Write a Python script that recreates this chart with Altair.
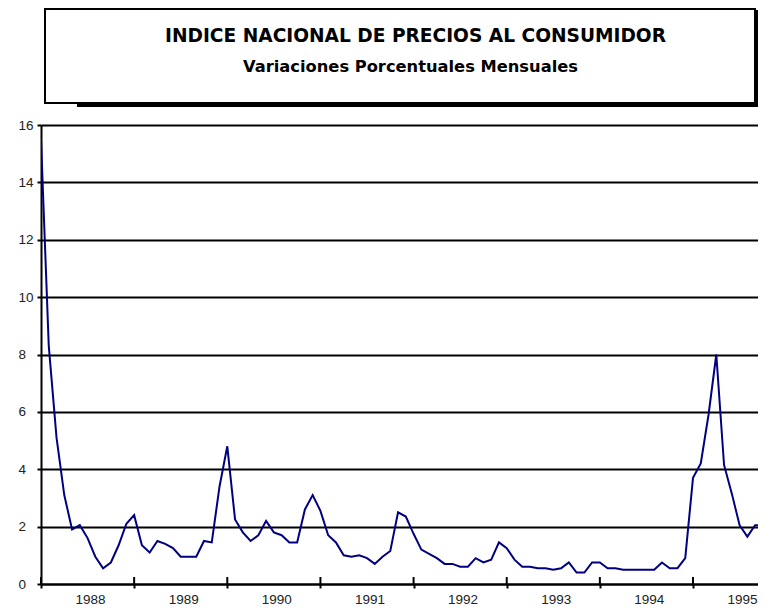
import altair as alt
import pandas as pd

# Monthly % change of the INPC, Jan 1988 .. Nov 1995
years = [1988, 1989, 1990, 1991, 1992, 1993, 1994, 1995]
v1988 = [15.5, 8.3, 5.1, 3.1, 1.9, 2.05, 1.6, 0.95, 0.55, 0.75, 1.35, 2.1]
v1989 = [2.4, 1.35, 1.1, 1.5, 1.4, 1.25, 0.95, 0.95, 0.95, 1.5, 1.45, 3.4]
v1990 = [4.8, 2.25, 1.8, 1.5, 1.7, 2.2, 1.8, 1.7, 1.45, 1.45, 2.6, 3.1]
v1991 = [2.55, 1.7, 1.45, 1.0, 0.95, 1.0, 0.9, 0.7, 0.95, 1.15, 2.5, 2.35]
v1992 = [1.75, 1.2, 1.05, 0.9, 0.7, 0.7, 0.6, 0.6, 0.9, 0.75, 0.85, 1.45]
v1993 = [1.25, 0.85, 0.6, 0.6, 0.55, 0.55, 0.5, 0.55, 0.75, 0.4, 0.4, 0.75]
v1994 = [0.75, 0.55, 0.55, 0.5, 0.5, 0.5, 0.5, 0.5, 0.75, 0.55, 0.55, 0.9]
v1995 = [3.7, 4.2, 5.9, 8.0, 4.15, 3.15, 2.05, 1.65, 2.05, 2.05, 2.4]

y_ticks = [0, 2, 4, 6, 8, 10, 12, 14, 16]
title_text = "INDICE NACIONAL DE PRECIOS AL CONSUMIDOR"
subtitle_text = "Variaciones Porcentuales Mensuales"

values = v1988 + v1989 + v1990 + v1991 + v1992 + v1993 + v1994 + v1995
df = pd.DataFrame({"i": list(range(len(values))), "v": values})
year_starts = [12 * k for k in range(len(years))]
ticks_df = pd.DataFrame({"i": year_starts})
one = pd.DataFrame({"a": [0]})

W, H = 717, 459
X_MAX = 717 / 7.762

x_enc = alt.X(
    "i:Q",
    scale=alt.Scale(domain=[0, X_MAX], nice=False, zero=False),
    axis=alt.Axis(
        values=year_starts,
        labelExpr="'' + (1988 + datum.value / 12)",
        title=None,
        grid=False,
        domainColor="black",
        domainWidth=2,
        tickColor="black",
        tickWidth=2,
        tickSize=4,
        labelOffset=49,
        labelPadding=4,
        labelFlush=False,
        labelOverlap=False,
        labelFont="Liberation Sans",
        labelFontSize=13.5,
        labelColor="#222222",
    ),
)
y_enc = alt.Y(
    "v:Q",
    scale=alt.Scale(domain=[0, 16], nice=False),
    axis=alt.Axis(
        values=y_ticks,
        title=None,
        grid=True,
        gridColor="black",
        gridWidth=2,
        gridOpacity=1,
        domainColor="black",
        domainWidth=2,
        tickColor="black",
        tickWidth=2,
        tickSize=4,
        labelAlign="left",
        labelBaseline="middle",
        labelPadding=19,
        labelFont="Liberation Sans",
        labelFontSize=13.5,
        labelColor="#222222",
    ),
)

shadow = alt.Chart(one).mark_rect(color="black").encode(
    x=alt.value(36), x2=alt.value(717), y=alt.value(-115), y2=alt.value(-18)
)
box = alt.Chart(one).mark_rect(fill="white", stroke="black", strokeWidth=2).encode(
    x=alt.value(4), x2=alt.value(714), y=alt.value(-116), y2=alt.value(-22)
)
title = alt.Chart(one).mark_text(
    text=title_text, font="DejaVu Sans", fontWeight="bold", fontSize=18.6,
    align="center", baseline="alphabetic", color="black",
).encode(x=alt.value(374.5), y=alt.value(-83.3))
subtitle = alt.Chart(one).mark_text(
    text=subtitle_text, font="DejaVu Sans", fontWeight="bold", fontSize=16.3,
    align="center", baseline="alphabetic", color="black",
).encode(x=alt.value(369.5), y=alt.value(-52.7))

line = alt.Chart(df).mark_line(color="#000080", strokeWidth=2, clip=True).encode(
    x=x_enc, y=y_enc
)
inner_ticks = alt.Chart(ticks_df).mark_rule(color="black", strokeWidth=2).encode(
    x=x_enc, y=alt.value(H - 7), y2=alt.value(H)
)

chart = alt.layer(shadow, box, title, subtitle, line, inner_ticks).properties(
    width=W,
    height=H,
    padding={"left": 33, "top": 117, "right": 0, "bottom": 23},
    autosize=alt.AutoSizeParams(type="none"),
    background="white",
).configure_view(stroke=None)

chart.save("out.html", embed_options={"renderer": "svg", "actions": False})
